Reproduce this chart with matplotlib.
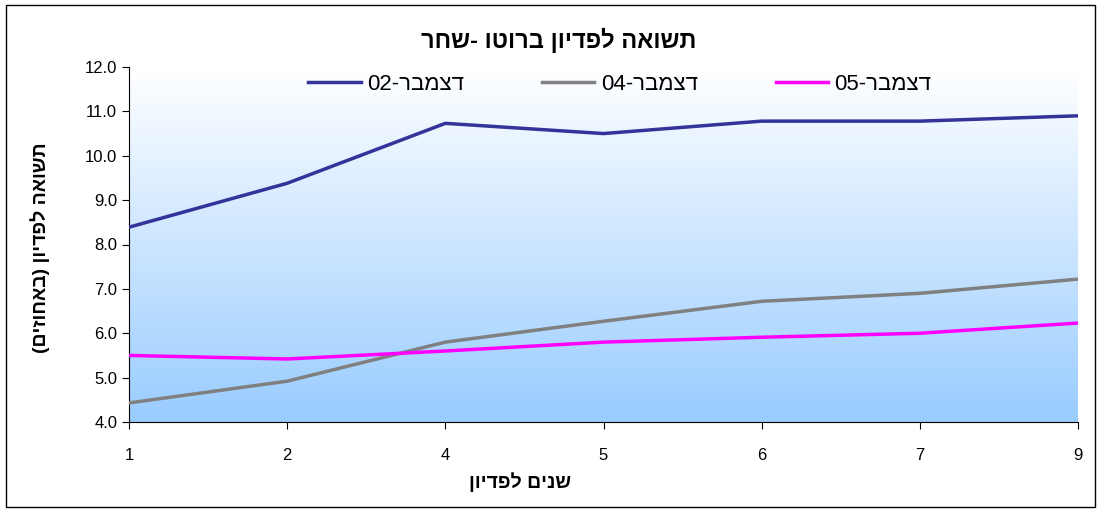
import numpy as np
import matplotlib.pyplot as plt
from matplotlib.colors import LinearSegmentedColormap
from matplotlib.patches import Rectangle

plt.rcParams['font.family'] = ['Liberation Sans', 'DejaVu Sans']


def vis(s):
    # matplotlib has no bidi support: hand it the visual (reversed) order
    return s[::-1].translate(str.maketrans('()', ')('))


years = ['1', '2', '4', '5', '6', '7', '9']
dec02 = [8.39, 9.38, 10.73, 10.50, 10.78, 10.78, 10.90]
dec04 = [4.43, 4.92, 5.80, 6.27, 6.72, 6.90, 7.22]
dec05 = [5.50, 5.42, 5.60, 5.80, 5.91, 6.00, 6.23]

labels = ['02-' + vis('דצמבר'), '04-' + vis('דצמבר'), '05-' + vis('דצמבר')]
colors = ['#333399', '#808080', '#ff00ff']

W, H = 1101, 513
fig = plt.figure(figsize=(W / 100, H / 100), dpi=100)
fig.patches.append(Rectangle((0.005, 0.012), 0.99, 0.978, transform=fig.transFigure,
                             fill=False, edgecolor='black', lw=1))
ax = fig.add_axes([129 / W, 1 - 422 / H, (1078 - 129) / W, (422 - 67) / H])

# white-to-blue gradient background
cmap = LinearSegmentedColormap.from_list('bg', ['#ffffff', '#99ccff'])
grad = np.linspace(0, 1, 256).reshape(-1, 1)
ax.imshow(grad, cmap=cmap, aspect='auto', extent=[0, 1, 0, 1],
          transform=ax.transAxes, zorder=0)

x = np.arange(len(years))
for vals, lab, c in zip([dec02, dec04, dec05], labels, colors):
    ax.plot(x, vals, color=c, lw=2.5, label=lab, zorder=3)

ax.set_xlim(0, len(years) - 1)
ax.set_ylim(4, 12)
ax.set_xticks(x)
ax.set_xticklabels(years)
ax.set_yticks(np.arange(4, 12.1, 1))
ax.set_yticklabels(['%.1f' % v for v in np.arange(4, 12.1, 1)])
ax.tick_params(labelsize=12, length=5, direction='out')
ax.tick_params(axis='x', pad=14)
for s in ['top', 'right']:
    ax.spines[s].set_visible(False)

fig.text(559 / W, 1 - 40 / H, vis('תשואה לפדיון ברוטו -שחר'), fontsize=17,
         fontweight='bold', ha='center', va='center')
fig.text(520 / W, 1 - 482 / H, vis('שנים לפדיון'), fontsize=14,
         fontweight='bold', ha='center', va='center')
fig.text(40 / W, 1 - 248 / H, vis('תשואה לפדיון (באחוזים)'), fontsize=14,
         fontweight='bold', ha='center', va='center', rotation=90)

ax.legend(loc='center', bbox_to_anchor=(620 / W, 1 - 84 / H),
          bbox_transform=fig.transFigure, ncol=3, frameon=False,
          fontsize=16, columnspacing=3.5, handlelength=2.35, handletextpad=0.3)

fig.savefig('out.png', dpi=100)
